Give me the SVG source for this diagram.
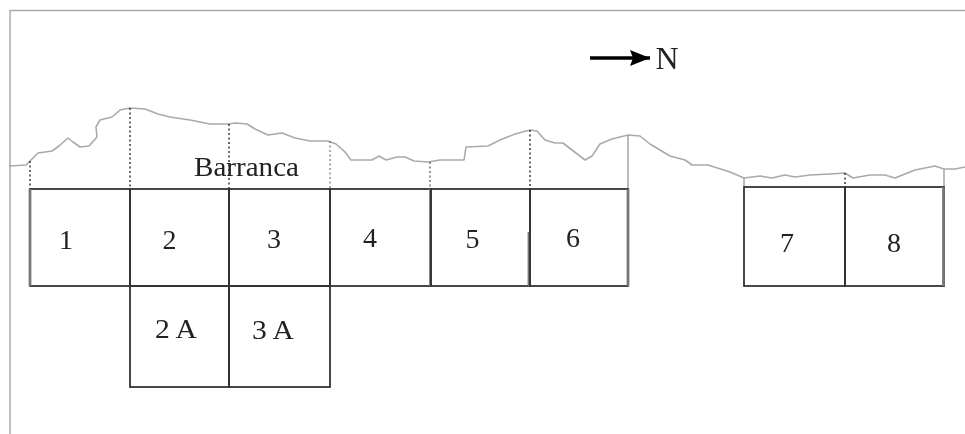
<svg xmlns="http://www.w3.org/2000/svg" width="965" height="434" viewBox="0 0 965 434">
<style>
.t{font-family:"Liberation Serif","Times New Roman",serif;font-size:28px;fill:#222}
.b{fill:none;stroke:#333;stroke-width:1.8}
.g{fill:none;stroke:#777;stroke-width:2.800}
.d{fill:none;stroke:#444;stroke-width:1.6;stroke-dasharray:2 2.5}
.s{fill:none;stroke:#aaa;stroke-width:1.6;stroke-linejoin:round}
</style>
<defs>
<marker id="ah" markerUnits="userSpaceOnUse" markerWidth="22" markerHeight="20" refX="20" refY="10" orient="auto"><path d="M0 2L20 10L0 18L3 10Z" fill="#000"/></marker>
<filter id="soft" x="-2%" y="-2%" width="104%" height="104%"><feGaussianBlur stdDeviation="0.7"/></filter>
</defs>
<rect width="965" height="434" fill="#fff"/>
<g filter="url(#soft)">
<path d="M10 434V10.500H965" fill="none" stroke="#aaa" stroke-width="1.5"/>
<g id="connectors">
<path id="terrain" class="s" d="M9 166L26 165L30 161L38 153L52 151L59 146L68 138L73 142L80 147L89 146L97 137L96 127L100 120L112 117L120 110L130 108L145 109L158 114L170 117L190 120L210 124L228 124L236 123L247 124L255 129L268 135L282 133L295 138L310 141L328 141L336 144L345 152L351 160L372 160L379 156L386 160L397 157L405 157L414 161L428 162L440 160L464 160L466 147L488 146L500 140L515 134L530 130L537 131L545 140L555 143L563 143L572 150L585 160L592 156L600 144L612 139L628 135L640 136L650 144L660 150L670 156L685 160L692 165L708 165L730 172L744 178L760 176L772 178L785 175L795 177L810 175L830 174L845 173L853 178L870 175L885 175L895 178L915 170L935 166L944 169L955 169L965 167"/>
<path class="d" d="M30 161V189"/>
<path class="d" d="M130 108V189"/>
<path class="d" d="M229 124V189"/>
<path class="d" d="M330 141V189" stroke-opacity=".55"/>
<path class="d" d="M430 162V189" stroke-opacity=".7"/>
<path class="d" d="M530 130V189"/>
<path class="s" d="M628 135V189"/>
<path class="s" d="M744 178V187"/>
<path class="d" d="M845 173V187"/>
<path class="s" d="M944 169V187"/>
<path id="north-arrow" d="M590 58H650" fill="none" stroke="#000" stroke-width="3.500" marker-end="url(#ah)"/>
</g>
<g id="n1"><rect class="b" x="30" y="189" width="100" height="97"/><path class="g" d="M30 189V286"/><text class="t" x="66" y="248.500" text-anchor="middle">1</text></g>
<g id="n2"><rect class="b" x="130" y="189" width="99" height="97"/><text class="t" x="169.500" y="249" text-anchor="middle">2</text></g>
<g id="n3"><rect class="b" x="229" y="189" width="101" height="97"/><text class="t" x="274" y="248" text-anchor="middle">3</text></g>
<g id="n4"><rect class="b" x="330" y="189" width="101" height="97"/><path class="g" d="M430.500 189V286"/><text class="t" x="370" y="246.500" text-anchor="middle">4</text></g>
<g id="n5"><rect class="b" x="431" y="189" width="99" height="97"/><path class="g" d="M529 232V286"/><text class="t" x="472.500" y="247.500" text-anchor="middle">5</text></g>
<g id="n6"><rect class="b" x="530" y="189" width="98" height="97"/><path class="g" d="M628 189V286"/><text class="t" x="573" y="246.500" text-anchor="middle">6</text></g>
<g id="n7"><rect class="b" x="744" y="187" width="101" height="99"/><text class="t" x="787" y="251.500" text-anchor="middle">7</text></g>
<g id="n8"><rect class="b" x="845" y="187" width="99" height="99"/><path class="g" d="M943.500 187V286"/><text class="t" x="894" y="251.500" text-anchor="middle">8</text></g>
<g id="n2a"><rect class="b" x="130" y="286" width="99" height="101"/><text class="t" x="176" y="337.500" text-anchor="middle" textLength="42" lengthAdjust="spacingAndGlyphs">2 A</text></g>
<g id="n3a"><rect class="b" x="229" y="286" width="101" height="101"/><text class="t" x="273" y="338.500" text-anchor="middle" textLength="42" lengthAdjust="spacingAndGlyphs">3 A</text></g>
<g id="barranca"><text class="t" x="246.500" y="176" text-anchor="middle" textLength="105" lengthAdjust="spacingAndGlyphs">Barranca</text></g>
<g id="north"><text class="t" x="667" y="69" text-anchor="middle" style="font-size:32px">N</text></g>
</g>
</svg>
